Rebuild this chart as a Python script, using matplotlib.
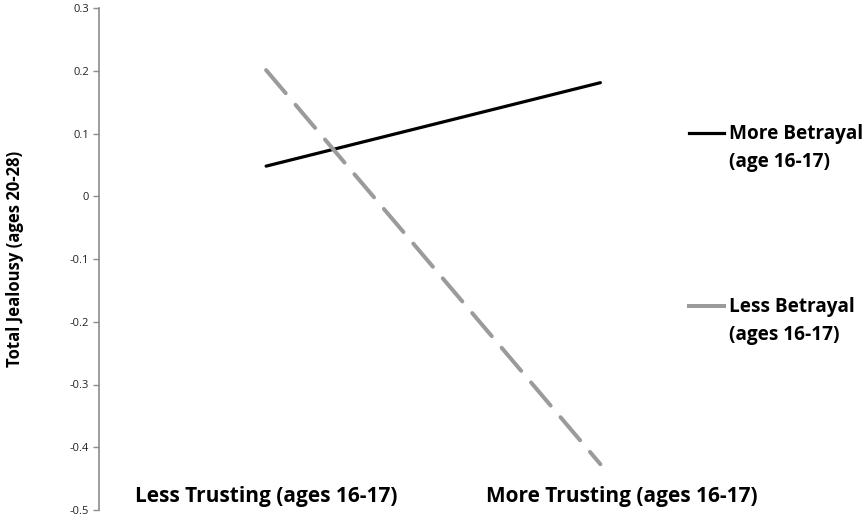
import matplotlib
matplotlib.use("Agg")
import matplotlib.pyplot as plt
from matplotlib.lines import Line2D

# data
categories = ["Less Trusting (ages 16-17)", "More Trusting (ages 16-17)"]
more_betrayal = [0.048, 0.181]
less_betrayal = [0.201, -0.427]
series_labels = ["More Betrayal\n(age 16-17)", "Less Betrayal\n(ages 16-17)"]
y_ticks = [-0.5, -0.4, -0.3, -0.2, -0.1, 0, 0.1, 0.2, 0.3]
y_tick_labels = ["-0.5", "-0.4", "-0.3", "-0.2", "-0.1", "0", "0.1", "0.2", "0.3"]

FONT = "Open Sans"
W, H = 865, 516
fig = plt.figure(figsize=(W / 100, H / 100), dpi=100)
ax = fig.add_axes([99 / W, 6 / H, (767.5 - 99) / W, (510 - 8) / H])

x = list(range(len(categories)))
ax.plot(x, more_betrayal, color="black", linewidth=2.3, solid_capstyle="round")
ax.plot(x, less_betrayal, color="#9b9b9b", linewidth=2.9,
        dashes=(7.5, 3.8), dash_capstyle="round")

ax.set_xlim(-0.5, 1.5)
ax.set_ylim(-0.5, 0.3)
ax.set_yticks(y_ticks)
ax.set_yticklabels(y_tick_labels)
ax.set_xticks([])
for s in ["top", "right", "bottom"]:
    ax.spines[s].set_visible(False)
ax.spines["left"].set_color("#8c8c8c")
ax.spines["left"].set_linewidth(1.2)
ax.tick_params(axis="y", direction="out", length=4, width=1.0, color="#8c8c8c",
               labelsize=8, labelcolor="#222222", pad=3)
for lab in ax.get_yticklabels():
    lab.set_fontfamily(FONT)

# category labels sit inside the plot area
offsets = [0.0, 0.065]
for i, c in enumerate(categories):
    ax.text(i + offsets[i], -0.479, c, ha="center", va="center",
            fontsize=15, fontweight="bold", family=FONT, color="black")

fig.text(15 / W, 1 - 259 / H, "Total Jealousy (ages 20-28)", rotation=90,
         ha="center", va="center", fontsize=12, fontweight="bold",
         family=FONT, color="black")

# legend drawn by hand
leg_y = [133, 306]
styles = [dict(color="black", linewidth=2.3), dict(color="#9b9b9b", linewidth=2.9)]
for yy, st, lab in zip(leg_y, styles, series_labels):
    fig.add_artist(Line2D([689 / W, 724 / W], [1 - yy / H, 1 - yy / H], **st))
    fig.text(729 / W, 1 - (yy - 9) / H, lab, ha="left", va="top",
             fontsize=13.7, fontweight="bold", family=FONT, color="black",
             linespacing=1.55)

fig.savefig("out.png", dpi=100)
